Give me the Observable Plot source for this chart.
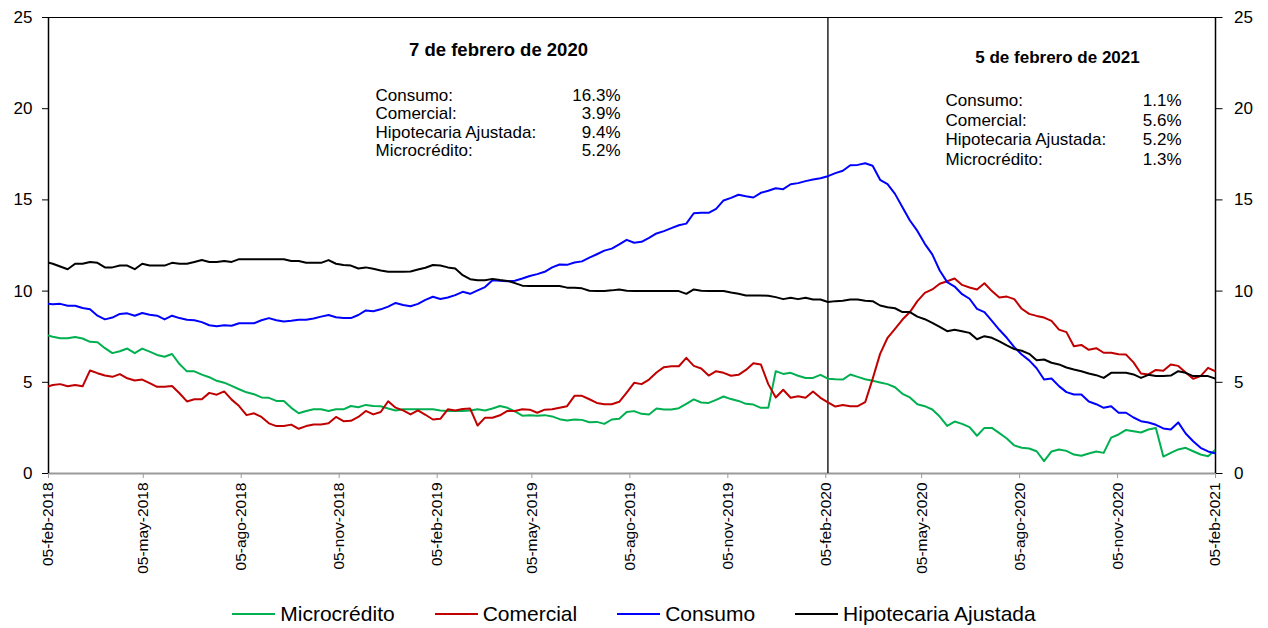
<!DOCTYPE html>
<html>
<head>
<meta charset="utf-8">
<script src="https://cdn.jsdelivr.net/npm/d3@7"></script>
<script src="https://cdn.jsdelivr.net/npm/@observablehq/plot@0.6"></script>
<style>
  html, body { margin: 0; padding: 0; background: #fff; overflow: hidden; }
  body { font-family: "Liberation Sans", Arial, sans-serif; width: 1268px; height: 628px; }
  #legend { display: flex; justify-content: center; align-items: center; height: 48px; font-size: 21px; color: #000; }
  .item { display: flex; align-items: center; margin: 0 20px; }
  .sw { width: 43px; height: 2.5px; margin-right: 5px; }
</style>
</head>
<body>
<div id="chart"></div>
<div id="legend"></div>
<script>
// ---- Data (weekly, Fridays from 2018-02-02 to 2021-02-05) ----
const firstWeek = "2018-02-02";
const lastWeek = "2021-02-05";

const microcredito = [
  7.6, 7.5, 7.42, 7.42, 7.48, 7.4, 7.22, 7.2, 6.87, 6.6,
  6.7, 6.85, 6.6, 6.85, 6.68, 6.5, 6.4, 6.55, 6.0, 5.6,
  5.6, 5.42, 5.28, 5.08, 4.98, 4.8, 4.62, 4.45, 4.35, 4.17,
  4.15, 3.98, 3.98, 3.6, 3.3, 3.43, 3.52, 3.52, 3.43, 3.52,
  3.52, 3.7, 3.63, 3.76, 3.7, 3.69, 3.56, 3.45, 3.52, 3.52,
  3.52, 3.52, 3.52, 3.45, 3.43, 3.43, 3.43, 3.45, 3.52, 3.45,
  3.56, 3.7, 3.6, 3.41, 3.17, 3.2, 3.17, 3.2, 3.13, 2.98,
  2.9, 2.96, 2.94, 2.81, 2.83, 2.72, 2.96, 3.0, 3.37,
  3.42, 3.27, 3.23, 3.56, 3.51, 3.51, 3.58, 3.82, 4.06, 3.89,
  3.87, 4.04, 4.22, 4.08, 3.98, 3.82, 3.78, 3.6, 3.6, 5.61,
  5.46, 5.52, 5.36, 5.24, 5.24, 5.41, 5.2, 5.17, 5.15, 5.43,
  5.3, 5.17, 5.08, 4.99, 4.9, 4.73, 4.37, 4.17,
  3.8,
  3.69, 3.51, 3.12, 2.61, 2.85, 2.72, 2.54, 2.07, 2.5, 2.5,
  2.21, 1.92, 1.54, 1.41, 1.37, 1.22, 0.68, 1.21, 1.32, 1.24,
  1.04, 0.97, 1.1, 1.21, 1.13, 1.97, 2.14, 2.39, 2.32, 2.25,
  2.41, 2.5, 0.93, 1.13, 1.32, 1.41, 1.22, 1.04, 0.95, 1.3
];

const comercial = [
  4.72, 4.85, 4.9, 4.78, 4.85, 4.78, 5.65, 5.5, 5.37, 5.3,
  5.45, 5.22, 5.1, 5.15, 4.95, 4.75, 4.75, 4.8, 4.4, 3.95,
  4.07, 4.07, 4.42, 4.32, 4.5, 4.05, 3.7, 3.2, 3.3, 3.1,
  2.75, 2.6, 2.6, 2.68, 2.45, 2.6, 2.69, 2.69, 2.75, 3.1,
  2.87, 2.89, 3.1, 3.43, 3.24, 3.37, 3.96, 3.61, 3.46, 3.24,
  3.46, 3.22, 2.96, 3.0, 3.52, 3.45, 3.54, 3.56, 2.63, 3.06,
  3.06, 3.19, 3.43, 3.43, 3.52, 3.5, 3.33, 3.5, 3.52, 3.61,
  3.69, 4.26, 4.26, 4.07, 3.87, 3.8, 3.8, 3.93, 4.44,
  4.97, 4.9, 5.15, 5.54, 5.83, 5.88, 5.88, 6.34, 5.9, 5.76,
  5.37, 5.61, 5.52, 5.36, 5.41, 5.68, 6.05, 5.98, 4.9, 4.17,
  4.59, 4.15, 4.24, 4.15, 4.5, 4.15, 3.9, 3.67, 3.76, 3.69,
  3.69, 3.91, 5.19, 6.56, 7.44, 7.93, 8.44, 8.85,
  9.45,
  9.9, 10.09, 10.4, 10.54, 10.69, 10.34, 10.2, 10.09, 10.43, 10.0,
  9.65, 9.7, 9.56, 9.03, 8.75, 8.64, 8.55, 8.37, 7.89, 7.75,
  6.98, 7.05, 6.78, 6.87, 6.62, 6.62, 6.54, 6.52, 6.09, 5.48,
  5.43, 5.68, 5.63, 5.98, 5.9, 5.54, 5.19, 5.34, 5.79, 5.6
];

const consumo = [
  9.33, 9.28, 9.3, 9.2, 9.2, 9.07, 9.0, 8.65, 8.45, 8.55,
  8.75, 8.78, 8.65, 8.8, 8.7, 8.65, 8.45, 8.65, 8.52, 8.43,
  8.4, 8.3, 8.13, 8.07, 8.13, 8.1, 8.24, 8.24, 8.24, 8.4,
  8.52, 8.4, 8.33, 8.37, 8.43, 8.43, 8.5, 8.6, 8.69, 8.57,
  8.52, 8.52, 8.69, 8.94, 8.9, 9.0, 9.15, 9.35, 9.24, 9.17,
  9.3, 9.52, 9.69, 9.57, 9.65, 9.78, 9.96, 9.85, 10.04, 10.22,
  10.59, 10.57, 10.54, 10.57, 10.69, 10.83, 10.93, 11.06, 11.3, 11.46,
  11.44, 11.57, 11.63, 11.83, 12.02, 12.22, 12.33, 12.56, 12.81,
  12.65, 12.7, 12.92, 13.16, 13.29, 13.45, 13.61, 13.7, 14.27, 14.29,
  14.29, 14.51, 14.97, 15.11, 15.28, 15.2, 15.13, 15.39, 15.5, 15.64,
  15.59, 15.86, 15.92, 16.03, 16.12, 16.19, 16.3, 16.47, 16.6, 16.9,
  16.92, 17.01, 16.87, 16.1, 15.86, 15.33, 14.6, 13.87,
  13.3,
  12.59, 12.01, 11.13, 10.49, 10.25, 9.83, 9.58, 9.03, 8.85, 8.37,
  7.88, 7.44, 6.93, 6.52, 6.2, 5.77, 5.15, 5.21, 4.79, 4.46,
  4.33, 4.33, 3.95, 3.8, 3.6, 3.69, 3.33, 3.33, 3.07, 2.87,
  2.8, 2.67, 2.47, 2.41, 2.8, 2.19, 1.77, 1.41, 1.21, 1.1
];

const hipotecaria = [
  11.6, 11.5, 11.35, 11.2, 11.5, 11.5, 11.6, 11.55, 11.3, 11.3,
  11.4, 11.4, 11.2, 11.5, 11.4, 11.4, 11.4, 11.55, 11.5, 11.5,
  11.6, 11.7, 11.6, 11.6, 11.65, 11.6, 11.75, 11.75, 11.75, 11.75,
  11.75, 11.75, 11.75, 11.65, 11.65, 11.55, 11.55, 11.55, 11.7, 11.5,
  11.43, 11.4, 11.24, 11.3, 11.22, 11.13, 11.06, 11.06, 11.06, 11.07,
  11.18, 11.28, 11.43, 11.4, 11.3, 11.24, 10.87, 10.65, 10.59, 10.59,
  10.67, 10.61, 10.56, 10.44, 10.3, 10.28, 10.28, 10.28, 10.28, 10.28,
  10.19, 10.19, 10.15, 10.02, 10.0, 10.0, 10.04, 10.09, 10.02,
  10.0, 10.0, 10.0, 10.0, 10.0, 10.0, 10.0, 9.85, 10.09, 10.02,
  10.0, 10.0, 10.0, 9.92, 9.85, 9.76, 9.76, 9.76, 9.74, 9.67,
  9.56, 9.63, 9.56, 9.63, 9.54, 9.54, 9.4, 9.45, 9.47, 9.54,
  9.54, 9.47, 9.45, 9.21, 9.12, 9.06, 8.85, 8.85,
  8.6,
  8.46, 8.26, 8.04, 7.8, 7.88, 7.8, 7.71, 7.36, 7.53, 7.44,
  7.24, 7.02, 6.82, 6.73, 6.56, 6.21, 6.25, 6.07, 5.98, 5.81,
  5.7, 5.61, 5.48, 5.39, 5.24, 5.52, 5.52, 5.52, 5.43, 5.24,
  5.41, 5.34, 5.34, 5.37, 5.61, 5.52, 5.34, 5.34, 5.34, 5.2
];

const seriesNames = ["Microcrédito", "Comercial", "Consumo", "Hipotecaria Ajustada"];
const seriesColors = ["#00b050", "#c00000", "#0000ff", "#000000"];
const seriesValues = [microcredito, comercial, consumo, hipotecaria];

const xTickLabels = ["05-feb-2018", "05-may-2018", "05-ago-2018", "05-nov-2018", "05-feb-2019",
  "05-may-2019", "05-ago-2019", "05-nov-2019", "05-feb-2020", "05-may-2020", "05-ago-2020",
  "05-nov-2020", "05-feb-2021"];
const yTicks = [0, 5, 10, 15, 20, 25];

const markerDate = "2020-02-07";
const statLabels = ["Consumo:", "Comercial:", "Hipotecaria Ajustada:", "Microcrédito:"];
const title2020 = "7 de febrero de 2020";
const stats2020 = ["16.3%", "3.9%", "9.4%", "5.2%"];
const title2021 = "5 de febrero de 2021";
const stats2021 = ["1.1%", "5.6%", "5.2%", "1.3%"];

// ---- Build table ----
const parse = d3.utcParse("%Y-%m-%d");
const dates = d3.utcFriday.range(parse(firstWeek), d3.utcDay.offset(parse(lastWeek), 1));
const rows = [];
seriesNames.forEach((name, k) => {
  seriesValues[k].forEach((v, i) => { if (i < dates.length) rows.push({date: dates[i], value: v, serie: name}); });
});

const monthIdx = {ene:0, feb:1, mar:2, abr:3, may:4, jun:5, jul:6, ago:7, sep:8, oct:9, nov:10, dic:11};
const xTickDates = xTickLabels.map(s => {
  const [d, m, y] = s.split("-");
  return new Date(Date.UTC(+y, monthIdx[m], +d));
});
const labelByTime = new Map(xTickDates.map((d, i) => [+d, xTickLabels[i]]));
const xDomain = [xTickDates[0], xTickDates[xTickDates.length - 1]];

const font = "Liberation Sans, Arial, sans-serif";

const chart = Plot.plot({
  width: 1268,
  height: 590,
  marginTop: 17,
  marginBottom: 117,
  marginLeft: 48,
  marginRight: 53,
  style: {fontFamily: font, background: "#fff", color: "#000", overflow: "visible"},
  x: {type: "utc", domain: xDomain, label: null},
  y: {domain: [0, 25], label: null},
  color: {domain: seriesNames, range: seriesColors},
  marks: [
    Plot.ruleY([25], {stroke: "#000", strokeWidth: 1}),
    Plot.ruleY([0], {stroke: "#9a9a9a", strokeWidth: 2}),
    Plot.ruleX([xDomain[0]], {stroke: "#000", strokeWidth: 1.5}),
    Plot.ruleX([xDomain[1]], {stroke: "#000", strokeWidth: 1.5}),
    Plot.ruleX([parse(markerDate)], {stroke: "#000", strokeWidth: 1.3}),
    Plot.line(rows, {x: "date", y: "value", z: "serie", stroke: "serie", strokeWidth: 2, clip: true}),
    Plot.axisY({anchor: "left", ticks: yTicks, tickSize: 6, tickPadding: 10, fontSize: 17, label: null}),
    Plot.axisY({anchor: "right", ticks: yTicks, tickSize: 6.5, tickPadding: 12, fontSize: 17, label: null}),
    Plot.axisX({ticks: xTickDates, tickFormat: d => labelByTime.get(+d), tickRotate: -90,
      tickSize: 5, tickPadding: 4, fontSize: 15.5, stroke: "#9a9a9a", fill: "#000", label: null}),
    // annotation: 7 de febrero de 2020
    Plot.text([title2020], {text: d => d, frameAnchor: "top-left", dx: 450, dy: 38,
      textAnchor: "middle", lineAnchor: "bottom", fontSize: 18.5, fontWeight: "bold", fill: "#000"}),
    Plot.text([statLabels.join("\n")], {text: d => d, frameAnchor: "top-left", dx: 327, dy: 138.5,
      textAnchor: "start", lineAnchor: "bottom", lineHeight: 1.088, fontSize: 17, fill: "#000"}),
    Plot.text([stats2020.join("\n")], {text: d => d, frameAnchor: "top-left", dx: 572, dy: 138.5,
      textAnchor: "end", lineAnchor: "bottom", lineHeight: 1.088, fontSize: 17, fill: "#000"}),
    // annotation: 5 de febrero de 2021
    Plot.text([title2021], {text: d => d, frameAnchor: "top-left", dx: 1009, dy: 45,
      textAnchor: "middle", lineAnchor: "bottom", fontSize: 17, fontWeight: "bold", fill: "#000"}),
    Plot.text([statLabels.join("\n")], {text: d => d, frameAnchor: "top-left", dx: 897, dy: 147,
      textAnchor: "start", lineAnchor: "bottom", lineHeight: 1.147, fontSize: 17, fill: "#000"}),
    Plot.text([stats2021.join("\n")], {text: d => d, frameAnchor: "top-left", dx: 1133, dy: 147,
      textAnchor: "end", lineAnchor: "bottom", lineHeight: 1.147, fontSize: 17, fill: "#000"})
  ]
});
document.getElementById("chart").appendChild(chart);

// ---- Legend ----
const legend = document.getElementById("legend");
seriesNames.forEach((name, k) => {
  const item = document.createElement("div");
  item.className = "item";
  const sw = document.createElement("span");
  sw.className = "sw";
  sw.style.background = seriesColors[k];
  const label = document.createElement("span");
  label.textContent = name;
  item.appendChild(sw);
  item.appendChild(label);
  legend.appendChild(item);
});
</script>
</body>
</html>
